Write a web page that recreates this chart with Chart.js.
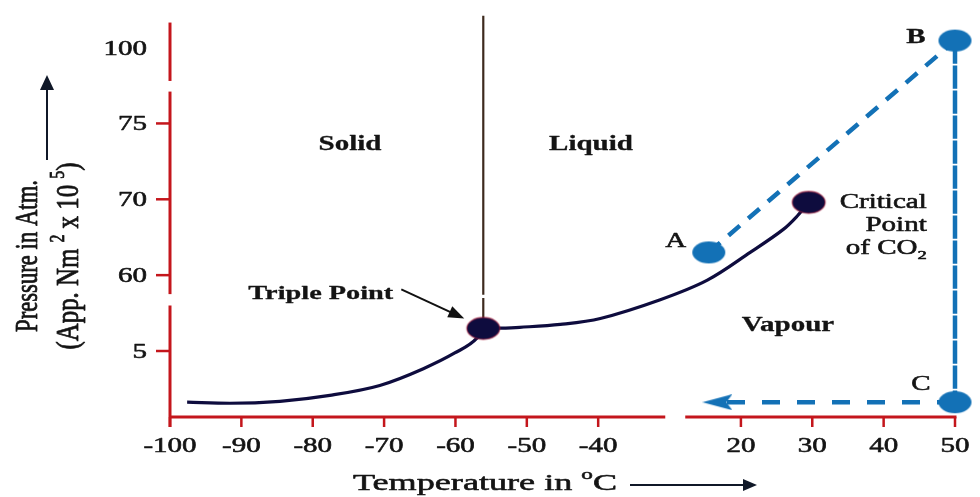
<!DOCTYPE html>
<html>
<head>
<meta charset="utf-8">
<title>Phase diagram of CO2</title>
<script src="https://cdn.jsdelivr.net/npm/chart.js@4.4.1/dist/chart.umd.min.js"></script>
<style>
    html, body { margin: 0; padding: 0; background: #fff; }
    #wrap { position: relative; width: 980px; height: 497px; }
</style>
</head>
<body>
<div id="wrap"><canvas id="grafico"></canvas></div>
<script>
// axis labels (both axes are broken)
const tempTicks = [-100, -90, -80, -70, -60, -50, -40, 20, 30, 40, 50];
const pressTicks = [5, 60, 70, 75, 100];

// sublimation curve, up to the triple point
const subTemp  = [-97.6, -91.6, -84.6, -77.6, -70.6, -64.5, -60.1, -57.0, -56.1];
const subPress = [1.12, 1.04, 1.19, 1.64, 2.39, 3.66, 4.85, 14.3, 21.4];

// vapour pressure curve, triple point to critical point
const vapTemp  = [-56.1, -53.8, -51.0, -45.3, -39.7, -31.3, 15.3, 21.3, 25.9, 27.9, 29.5];
const vapPress = [21.4, 21.6, 22.2, 24.3, 28.6, 42.2, 56.4, 63.0, 66.0, 67.8, 69.6];

// solid / liquid boundary (interrupted where the pressure axis breaks)
const fusionTemp  = [-56.1, -56.1, -56.1, -56.1, -56.1];
const fusionPress = [21.4, 43.4, null, 45.7, 110.5];

const triplePoint = { t: -56.1, p: 21.4 };
const criticalPoint = { t: 29.5, p: 69.6 };

// path A -> B -> C and on to the arrow tip
const pathNames = ["A", "B", "C"];
const pathTemp  = [15.5, 50, 50, 16.7];
const pathPress = [63.0, 102.3, 1.12, 1.12];

const RED = "#c4161c";
const INK = "#141414";
const NAVY = "#0e0c3e";
const BLUE = "#1371b6";
const STRETCH = 1.45;
const SERIF = '"Liberation Serif", "DejaVu Serif", serif';

// the temperature axis jumps from -30 to +10 at slot 7
const X_BREAK = 7;
// the pressure axis starts a little below the "5" slot
const Y_ORIGIN = 0.13;

function tPos(t) {
    return t <= -30 ? (t - tempTicks[0]) / 10 : X_BREAK + 1 + (t - 20) / 10;
}

function pPos(p) {
    if (p === null) return null;
    if (p <= pressTicks[0]) return Y_ORIGIN + (1 - Y_ORIGIN) * p / pressTicks[0];
    for (let i = 1; i < pressTicks.length; i++) {
        if (p <= pressTicks[i] || i === pressTicks.length - 1) {
            return i + (p - pressTicks[i - 1]) / (pressTicks[i] - pressTicks[i - 1]);
        }
    }
}

const pts = (ts, ps) => ts.map((t, i) => ({ x: tPos(t), y: pPos(ps[i]) }));

function ellipseDot(w, h, fill, rim) {
    const c = document.createElement("canvas");
    c.width = w + 4;
    c.height = h + 4;
    const g = c.getContext("2d");
    g.beginPath();
    g.ellipse(c.width / 2, c.height / 2, w / 2, h / 2, 0, 0, Math.PI * 2);
    g.fillStyle = fill;
    g.fill();
    if (rim) {
        g.lineWidth = 1.3;
        g.strokeStyle = rim;
        g.stroke();
    }
    return c;
}

function arrowHead(len, half, colour) {
    const c = document.createElement("canvas");
    c.width = len;
    c.height = half * 2;
    const g = c.getContext("2d");
    g.beginPath();
    g.moveTo(0, half);
    g.lineTo(len, 0);
    g.lineTo(len * 0.8, half);
    g.lineTo(len, half * 2);
    g.closePath();
    g.fillStyle = colour;
    g.fill();
    return c;
}

const navyDot = ellipseDot(33, 22, NAVY, "rgba(170,30,60,0.6)");
const blueDot = ellipseDot(33, 22, BLUE);
const pathArrow = arrowHead(30, 8, BLUE);

// text is drawn wide and a little heavy, the way the printed figure looks
function write(ctx, runs, x, y, size, o = {}) {
    if (typeof runs === "string") runs = [{ t: runs }];
    const font = (s) => `${o.bold ? "bold " : ""}${s}px ${SERIF}`;
    let natural = 0;
    const parts = runs.map((r) => {
        const s = r.sup || r.sub ? size * 0.64 : size;
        ctx.font = font(s);
        const w = ctx.measureText(r.t).width;
        natural += w;
        return { r, s, w };
    });
    const rotated = !!o.rotate;
    const along = o.width ? o.width / natural : (rotated ? 1 : STRETCH);
    const across = rotated ? STRETCH : 1;
    ctx.save();
    ctx.translate(x, y);
    if (rotated) ctx.rotate(-Math.PI / 2);
    ctx.scale(along, across);
    let cx = o.align === "right" ? -natural : o.align === "left" ? 0 : -natural / 2;
    ctx.fillStyle = o.color || INK;
    ctx.strokeStyle = o.color || INK;
    ctx.lineWidth = o.bold ? 0.3 : 0.55;
    ctx.lineJoin = "round";
    ctx.textAlign = "left";
    ctx.textBaseline = "alphabetic";
    parts.forEach((p) => {
        ctx.font = font(p.s);
        const dy = p.r.sup ? -size * 0.45 : p.r.sub ? size * 0.22 : 0;
        ctx.fillText(p.r.t, cx, dy);
        ctx.strokeText(p.r.t, cx, dy);
        cx += p.w;
    });
    ctx.restore();
}

function arrow(ctx, x1, y1, x2, y2, head, half, colour, width) {
    const a = Math.atan2(y2 - y1, x2 - x1);
    ctx.save();
    ctx.strokeStyle = colour;
    ctx.fillStyle = colour;
    ctx.lineWidth = width;
    ctx.beginPath();
    ctx.moveTo(x1, y1);
    ctx.lineTo(x2 - Math.cos(a) * head * 0.8, y2 - Math.sin(a) * head * 0.8);
    ctx.stroke();
    ctx.translate(x2, y2);
    ctx.rotate(a);
    ctx.beginPath();
    ctx.moveTo(0, 0);
    ctx.lineTo(-head, -half);
    ctx.lineTo(-head, half);
    ctx.closePath();
    ctx.fill();
    ctx.restore();
}

const ejes = {
    id: "ejes",
    beforeDatasetsDraw(chart) {
        const ctx = chart.ctx;
        const xs = chart.scales.x, ys = chart.scales.y;
        const X = (v) => xs.getPixelForValue(v);
        const Y = (v) => ys.getPixelForValue(v);
        const left = chart.chartArea.left, bottom = chart.chartArea.bottom;
        ctx.save();
        ctx.strokeStyle = RED;
        ctx.lineCap = "butt";
        ctx.lineWidth = 3;
        const seg = (x1, y1, x2, y2) => {
            ctx.beginPath();
            ctx.moveTo(x1, y1);
            ctx.lineTo(x2, y2);
            ctx.stroke();
        };
        // temperature axis, two pieces
        seg(left, bottom, X(6.94), bottom);
        seg(X(7.22), bottom, X(11) + 1.5, bottom);
        // pressure axis, three pieces
        seg(left, bottom + 10, left, Y(1.6));
        seg(left, Y(1.75), left, Y(4.42));
        seg(left, Y(4.56), left, Y(5.33));
        ctx.lineWidth = 2.5;
        tempTicks.forEach((t) => seg(X(tPos(t)), bottom, X(tPos(t)), bottom + 10));
        pressTicks.slice(0, -1).forEach((p) => seg(left - 14, Y(pPos(p)), left, Y(pPos(p))));
        ctx.restore();

        tempTicks.forEach((t) => write(ctx, String(t), X(tPos(t)), bottom + 35, 20));
        pressTicks.forEach((p) => write(ctx, String(p), 147, Y(pPos(p)) + 7, 20, { align: "right" }));
    },
    afterDatasetsDraw(chart) {
        const ctx = chart.ctx;
        const xs = chart.scales.x, ys = chart.scales.y;
        const at = (t, p) => [xs.getPixelForValue(tPos(t)), ys.getPixelForValue(pPos(p))];

        write(ctx, "Solid", 350, 150, 20, { bold: true });
        write(ctx, "Liquid", 591, 150, 20, { bold: true });
        write(ctx, "Vapour", 788, 331, 20, { bold: true });

        const [tx, ty] = at(triplePoint.t, triplePoint.p);
        write(ctx, "Triple Point", tx - 235, ty - 29, 19.5, { bold: true, align: "left", width: 145 });
        arrow(ctx, tx - 82, ty - 39, tx - 19, ty - 10, 16, 6, "#111", 2);

        const [cx, cy] = at(criticalPoint.t, criticalPoint.p);
        write(ctx, "Critical", cx + 118, cy + 6, 20, { align: "right" });
        write(ctx, "Point", cx + 118, cy + 29, 20, { align: "right" });
        write(ctx, [{ t: "of CO" }, { t: "2", sub: true }], cx + 118, cy + 52, 20, { align: "right" });

        const offsets = [[-33, -5], [-39, 2], [-34, -12]];
        pathNames.forEach((name, i) => {
            const [px, py] = at(pathTemp[i], pathPress[i]);
            write(ctx, name, px + offsets[i][0], py + offsets[i][1], 20, { bold: name === "B" });
        });

        // axis titles with their arrows
        write(ctx, [{ t: "Temperature in " }, { t: "o", sup: true }, { t: "C" }], 353, 490, 24,
            { align: "left", width: 264 });
        arrow(ctx, 630, 485, 757, 485, 14, 6, "#101828", 2);

        write(ctx, "Pressure in Atm.", 37, 256, 22, { rotate: true, width: 152 });
        write(ctx, [{ t: "(App. Nm " }, { t: "2", sup: true }, { t: " x 10 " }, { t: "5", sup: true }, { t: ")" }],
            78, 256, 22, { rotate: true, width: 187 });
        arrow(ctx, 47, 160, 47, 75, 15, 7, "#101828", 2);
    }
};

const dotData = [triplePoint, criticalPoint].map((d) => ({ x: tPos(d.t), y: pPos(d.p) }))
    .concat(pts(pathTemp.slice(0, 3), pathPress.slice(0, 3)));

new Chart(document.getElementById("grafico"), {
    type: "line",
    data: {
        datasets: [
            {
                label: "puntos",
                data: dotData,
                showLine: false,
                pointStyle: [navyDot, navyDot, blueDot, blueDot, blueDot],
                pointRadius: 17,
                order: 0,
                clip: false
            },
            {
                label: "flecha",
                data: pts(pathTemp.slice(3), pathPress.slice(3)),
                showLine: false,
                pointStyle: pathArrow,
                pointRadius: 15,
                order: 1,
                clip: false
            },
            {
                label: "sublimación",
                data: pts(subTemp, subPress),
                borderColor: NAVY,
                borderWidth: 3.2,
                cubicInterpolationMode: "monotone",
                pointRadius: 0,
                order: 2,
                clip: false
            },
            {
                label: "vaporización",
                data: pts(vapTemp, vapPress),
                borderColor: NAVY,
                borderWidth: 3.2,
                tension: 0.35,
                pointRadius: 0,
                order: 2,
                clip: false
            },
            {
                label: "camino",
                data: pts(pathTemp, pathPress),
                borderColor: BLUE,
                borderWidth: 4.5,
                pointRadius: 0,
                tension: 0,
                segment: {
                    borderDash: (c) => [[15, 11], [17, 8], [18, 17]][c.p0DataIndex]
                },
                order: 3,
                clip: false
            },
            {
                label: "fusión",
                data: pts(fusionTemp, fusionPress),
                borderColor: "#3e2a1e",
                borderWidth: 2.2,
                pointRadius: 0,
                spanGaps: false,
                order: 4,
                clip: false
            }
        ]
    },
    options: {
        responsive: true,
        maintainAspectRatio: false,
        animation: false,
        layout: { padding: { top: 12, right: 25, left: 0, bottom: 0 } },
        plugins: {
            legend: { display: false },
            tooltip: { enabled: false }
        },
        scales: {
            x: {
                type: "linear",
                min: 0,
                max: 11,
                grid: { display: false },
                border: { display: false },
                ticks: { display: false },
                afterFit: (s) => { s.height = 80; }
            },
            y: {
                type: "linear",
                min: Y_ORIGIN,
                max: 5.39,
                grid: { display: false },
                border: { display: false },
                ticks: { display: false },
                afterFit: (s) => { s.width = 170; }
            }
        }
    },
    plugins: [ejes]
});
</script>
</body>
</html>
